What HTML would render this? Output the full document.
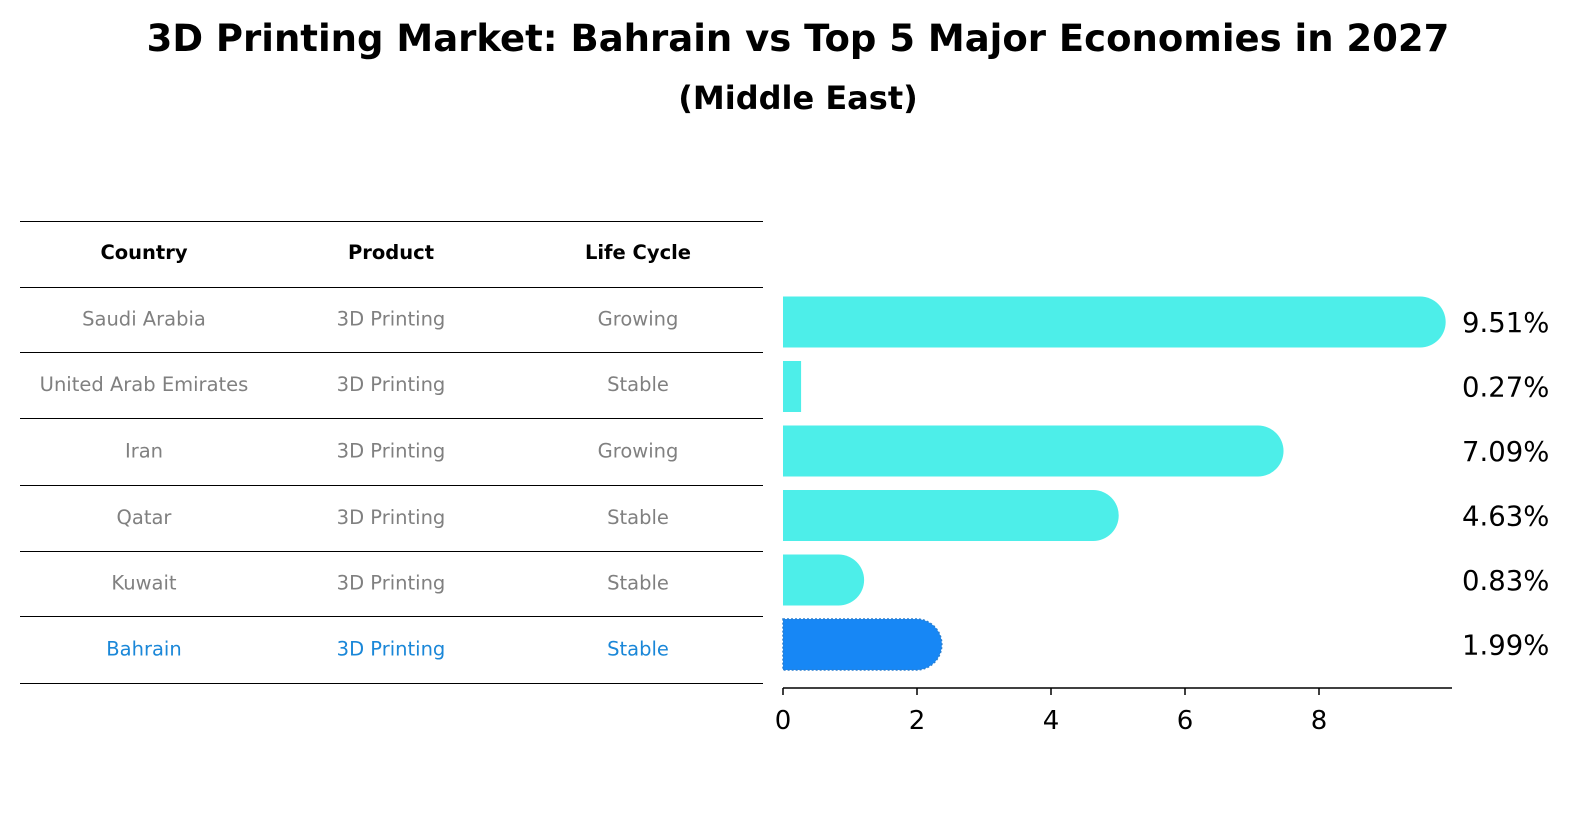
<!DOCTYPE html>
<html><head><meta charset="utf-8"><style>
body{margin:0;background:#fff;font-family:"Liberation Sans","DejaVu Sans",sans-serif;}
svg text{font-family:"DejaVu Sans","Liberation Sans",sans-serif;}
</style></head><body>
<svg id="c" width="1586" height="823" xmlns="http://www.w3.org/2000/svg">
<text x="798" y="51" text-anchor="middle" font-size="37" font-weight="bold">3D Printing Market: Bahrain vs Top 5 Major Economies in 2027</text>
<text x="798" y="109" text-anchor="middle" font-size="32" font-weight="bold">(Middle East)</text>
<g id="table"></g>
<g id="bars"></g>
<g id="axis"></g>
</svg>
<script>
const countries=["Saudi Arabia","United Arab Emirates","Iran","Qatar","Kuwait","Bahrain"];
const products=["3D Printing","3D Printing","3D Printing","3D Printing","3D Printing","3D Printing"];
const lifeCycles=["Growing","Stable","Growing","Stable","Stable","Stable"];
const values=[9.51,0.27,7.09,4.63,0.83,1.99];
const ticks=[0,2,4,6,8];
const NS="http://www.w3.org/2000/svg";
function mk(t,a,p){const e=document.createElementNS(NS,t);for(const k in a)e.setAttribute(k,a[k]);p.appendChild(e);return e;}
const X=v=>783+v*67;
const rowY=i=>322+i*64.5;
const tb=document.getElementById('table');
const lines=[221,287,352,418,485,551,616,683];
lines.forEach(y=>{const l=mk('line',{x1:20,x2:763,y1:y+0.5,y2:y+0.5,stroke:'#000','stroke-width':1},tb);

});
const colX=[144,391,638];
["Country","Product","Life Cycle"].forEach((h,j)=>{const t=mk('text',{x:colX[j],y:259,'text-anchor':'middle','font-size':'19.5','font-weight':'bold'},tb);t.textContent=h;

});
countries.forEach((c,i)=>{const y=(lines[i+1]+lines[i+2])/2+6;const col=i===5?'#1a87d8':'#808080';
[c,products[i],lifeCycles[i]].forEach((v,j)=>{const t=mk('text',{x:colX[j],y:y,'text-anchor':'middle','font-size':'19.5',fill:col},tb);t.textContent=v;

});});
const bg=document.getElementById('bars');const r=25.5;
values.forEach((v,i)=>{const cy=rowY(i);const col=i===5?'#1787f5':'#4deee9';const x1=X(v);
let d;
if(v>0.5){d=`M783 ${cy-r}H${x1}A${r} ${r} 0 0 1 ${x1} ${cy+r}H783Z`;}else{d=`M783 ${cy-r}H${x1}V${cy+r}H783Z`;}
const p=mk('path',{d:d,fill:col},bg);
if(i===5){p.setAttribute('stroke','#2a7fd0');p.setAttribute('stroke-dasharray','2 2');p.setAttribute('stroke-width','1.5');}


const t=mk('text',{x:1462,y:cy+10,'font-size':'27.5'},bg);t.textContent=v.toFixed(2)+'%';

});
const ax=document.getElementById('axis');
const al=mk('line',{x1:783,x2:1452,y1:688,y2:688,stroke:'#000','stroke-width':1.5},ax);


ticks.forEach(v=>{const tl=mk('line',{x1:X(v),x2:X(v),y1:688,y2:695,stroke:'#000','stroke-width':1.5},ax);


const t=mk('text',{x:X(v),y:729,'text-anchor':'middle','font-size':'26'},ax);t.textContent=v;

});
</script>
</body></html>
